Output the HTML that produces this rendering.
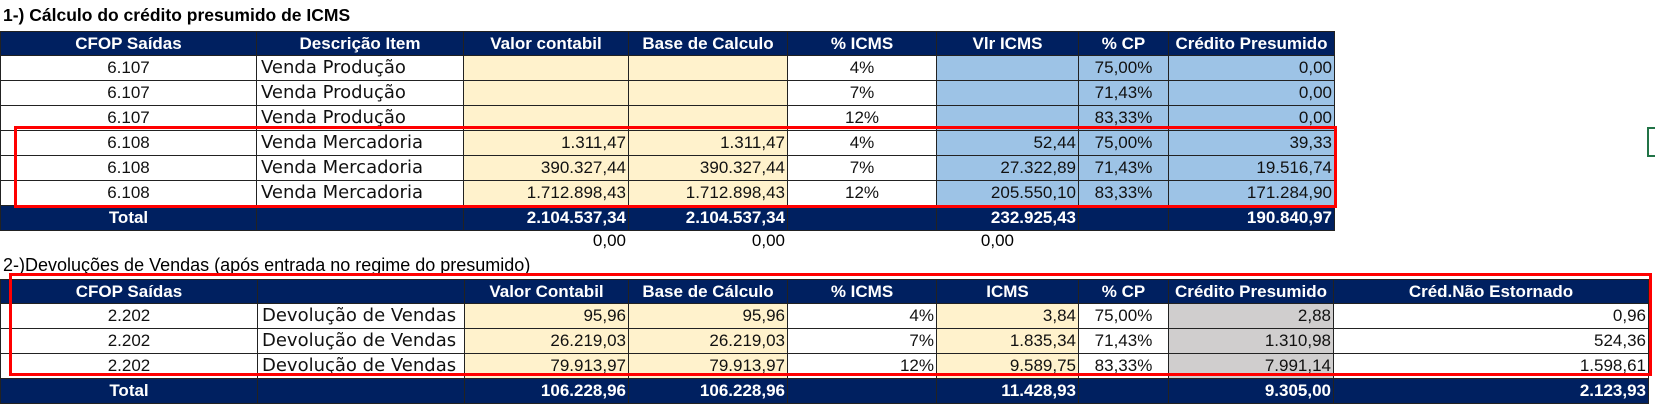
<!DOCTYPE html>
<html><head><meta charset="utf-8">
<style>
body{margin:0;width:1655px;height:407px;background:#fff;position:relative;overflow:hidden;font-family:"Liberation Sans",Arial,sans-serif;}
table{position:absolute;border-collapse:collapse;table-layout:fixed;}
td{border:1px solid #222;padding:0 2px;height:24px;font-size:17px;line-height:20px;white-space:nowrap;overflow:hidden;color:#111;}
tr.h td{background:#002060;color:#fff;font-weight:bold;text-align:center;font-size:17px;height:23px;}
tr.t td{background:#002060;color:#fff;font-weight:bold;text-align:right;font-size:17px;}
tr.t td.c{text-align:center;}
.c{text-align:center;}.r{text-align:right;}
.d{font-family:"DejaVu Sans",sans-serif;font-size:18px;padding-left:4px;}
.p{background:#FFF2CC;}.b{background:#9DC3E6;}.g{background:#D0CECE;}
.box{position:absolute;border:3px solid #f00;box-sizing:border-box;}
.ttl{position:absolute;}
</style></head><body>
<div class="ttl" style="left:3px;top:5px;font-weight:bold;font-size:17.5px;">1-) Cálculo do crédito presumido de ICMS</div>
<table style="left:0;top:31px;width:1334px;">
<colgroup><col style="width:256px"><col style="width:207px"><col style="width:165px"><col style="width:159px"><col style="width:149px"><col style="width:142px"><col style="width:90px"><col style="width:166px"></colgroup>
<tr class="h"><td>CFOP Saídas</td><td>Descrição Item</td><td>Valor contabil</td><td>Base de Calculo</td><td>% ICMS</td><td>Vlr ICMS</td><td>% CP</td><td>Crédito Presumido</td></tr>
<tr><td class="c">6.107</td><td class="d">Venda Produção</td><td class="p"></td><td class="p"></td><td class="c">4%</td><td class="b"></td><td class="b c">75,00%</td><td class="b r">0,00</td></tr>
<tr><td class="c">6.107</td><td class="d">Venda Produção</td><td class="p"></td><td class="p"></td><td class="c">7%</td><td class="b"></td><td class="b c">71,43%</td><td class="b r">0,00</td></tr>
<tr><td class="c">6.107</td><td class="d">Venda Produção</td><td class="p"></td><td class="p"></td><td class="c">12%</td><td class="b"></td><td class="b c">83,33%</td><td class="b r">0,00</td></tr>
<tr><td class="c">6.108</td><td class="d">Venda Mercadoria</td><td class="p r">1.311,47</td><td class="p r">1.311,47</td><td class="c">4%</td><td class="b r">52,44</td><td class="b c">75,00%</td><td class="b r">39,33</td></tr>
<tr><td class="c">6.108</td><td class="d">Venda Mercadoria</td><td class="p r">390.327,44</td><td class="p r">390.327,44</td><td class="c">7%</td><td class="b r">27.322,89</td><td class="b c">71,43%</td><td class="b r">19.516,74</td></tr>
<tr><td class="c">6.108</td><td class="d">Venda Mercadoria</td><td class="p r">1.712.898,43</td><td class="p r">1.712.898,43</td><td class="c">12%</td><td class="b r">205.550,10</td><td class="b c">83,33%</td><td class="b r">171.284,90</td></tr>
<tr class="t"><td class="c">Total</td><td></td><td>2.104.537,34</td><td>2.104.537,34</td><td></td><td>232.925,43</td><td></td><td>190.840,97</td></tr>
</table>
<div style="position:absolute;top:231px;left:464px;width:162px;text-align:right;font-size:17px;">0,00</div>
<div style="position:absolute;top:231px;left:628px;width:157px;text-align:right;font-size:17px;">0,00</div>
<div style="position:absolute;top:231px;left:936px;width:78px;text-align:right;font-size:17px;">0,00</div>
<div class="ttl" style="left:3px;top:255px;font-size:18px;">2-)Devoluções de Vendas (após entrada no regime do presumido)</div>
<table style="left:0;top:279px;width:1648px;">
<colgroup><col style="width:257px"><col style="width:207px"><col style="width:164px"><col style="width:159px"><col style="width:149px"><col style="width:142px"><col style="width:90px"><col style="width:165px"><col style="width:315px"></colgroup>
<tr class="h"><td>CFOP Saídas</td><td></td><td>Valor Contabil</td><td>Base de Cálculo</td><td>% ICMS</td><td>ICMS</td><td>% CP</td><td>Crédito Presumido</td><td>Créd.Não Estornado</td></tr>
<tr><td class="c">2.202</td><td class="d">Devolução de Vendas</td><td class="p r">95,96</td><td class="p r">95,96</td><td class="r">4%</td><td class="p r">3,84</td><td class="c">75,00%</td><td class="g r">2,88</td><td class="r">0,96</td></tr>
<tr><td class="c">2.202</td><td class="d">Devolução de Vendas</td><td class="p r">26.219,03</td><td class="p r">26.219,03</td><td class="r">7%</td><td class="p r">1.835,34</td><td class="c">71,43%</td><td class="g r">1.310,98</td><td class="r">524,36</td></tr>
<tr><td class="c">2.202</td><td class="d">Devolução de Vendas</td><td class="p r">79.913,97</td><td class="p r">79.913,97</td><td class="r">12%</td><td class="p r">9.589,75</td><td class="c">83,33%</td><td class="g r">7.991,14</td><td class="r">1.598,61</td></tr>
<tr class="t"><td class="c">Total</td><td></td><td>106.228,96</td><td>106.228,96</td><td></td><td>11.428,93</td><td></td><td>9.305,00</td><td>2.123,93</td></tr>
</table>
<div class="box" style="left:14px;top:126px;width:1323px;height:82px;"></div>
<div class="box" style="left:9px;top:273px;width:1643px;height:103px;"></div>
<div style="position:absolute;left:1647px;top:127px;width:10px;height:30px;border:2px solid #217346;box-sizing:border-box;"></div>
</body></html>
